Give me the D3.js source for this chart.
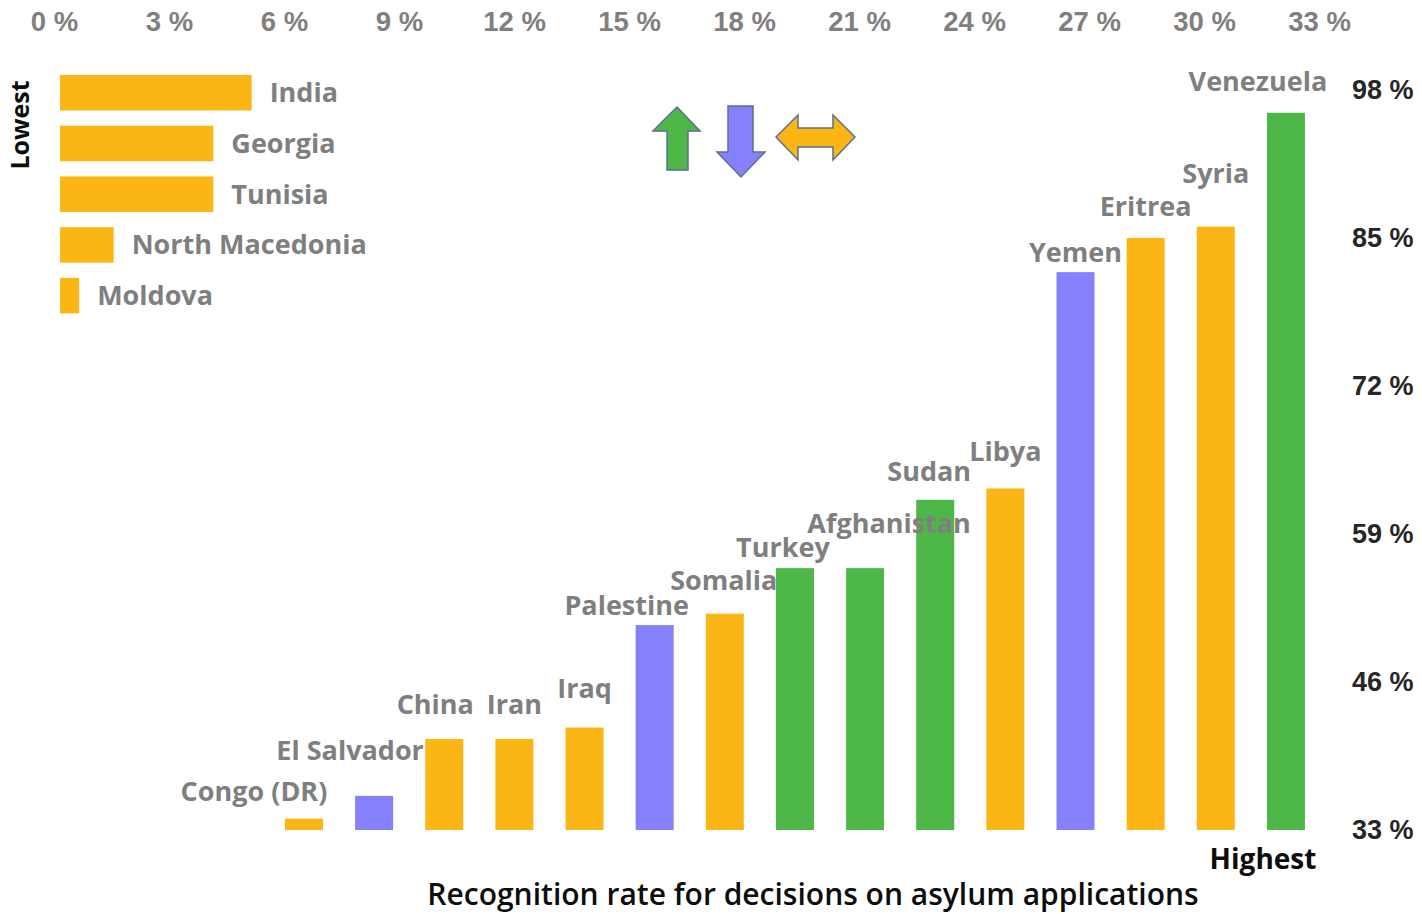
<!DOCTYPE html>
<meta charset="utf-8">
<style>
body { margin: 0; background: #fff; }
svg { font-family: "Open Sans", sans-serif; }
.country { fill: #7f7f7f; font-weight: 700; font-size: 27px; }
.top-axis text { fill: #7f7f7f; font-weight: 700; font-size: 27.5px; }
.right-axis text { fill: #262626; font-weight: 700; font-size: 27px; }
.domain, .tick line { display: none; }
.caption { fill: #0d0d0d; font-weight: 700; }
.arrow { stroke: #5b6f8c; stroke-width: 1.5; }
</style>
<svg width="1422" height="914"></svg>
<script src="https://d3js.org/d3.v7.min.js"></script>
<script>

// lowest recognition rates (%)
var lowNames = ["India", "Georgia", "Tunisia", "North Macedonia", "Moldova"];
var lowValues = [5.0, 4.0, 4.0, 1.4, 0.5];
var topTicks = [0, 3, 6, 9, 12, 15, 18, 21, 24, 27, 30, 33];

// highest recognition rates (%) and trend: up / down / same
var highNames = ["Congo (DR)", "El Salvador", "China", "Iran", "Iraq", "Palestine", "Somalia",
  "Turkey", "Afghanistan", "Sudan", "Libya", "Yemen", "Eritrea", "Syria", "Venezuela"];
var highValues = [34, 36, 41, 41, 42, 51, 52, 56, 56, 62, 63, 82, 85, 86, 96];
var highTrend = ["same", "down", "same", "same", "same", "down", "same",
  "up", "up", "up", "same", "down", "same", "same", "up"];
var rightTicks = [33, 46, 59, 72, 85, 98];

// hand placed label nudges [dx, dy] relative to bar centre / top
var labelNudge = [[-50, -27], [-24, -45], [-9, -34], [0, -34], [0, -39], [-28, -20], [-1, -33],
  [-12, -21], [24, -45], [-6, -28], [0, -37], [0, -20], [0, -31], [0, -53], [-28, -31]];

var color = d3.scaleOrdinal()
    .domain(["up", "down", "same"])
    .range(["#4db848", "#8780fd", "#fbb615"]);

var svg = d3.select("svg");

// ---- lowest: horizontal bars against the top axis
var x = d3.scaleLinear().domain([0, 33]).range([60, 1325]);
var yLow = d3.scaleBand().domain(lowNames).range([67.4, 321]).paddingInner(0.3).paddingOuter(0.15);

svg.append("g")
    .attr("class", "top-axis")
    .attr("transform", "translate(0,24)")
    .call(d3.axisTop(x).tickValues(topTicks).tickSize(0).tickFormat(function(d) { return d + " %"; }))
  .selectAll("text")
    .attr("dx", -6)
    .attr("dy", "0.35em");

svg.append("g").selectAll("rect")
  .data(lowValues)
  .enter().append("rect")
    .attr("x", x(0))
    .attr("y", function(d, i) { return yLow(lowNames[i]); })
    .attr("width", function(d) { return x(d) - x(0); })
    .attr("height", yLow.bandwidth())
    .attr("fill", color("same"));

svg.append("g").selectAll("text")
  .data(lowValues)
  .enter().append("text")
    .attr("class", "country")
    .attr("x", function(d) { return x(d) + 18; })
    .attr("y", function(d, i) { return yLow(lowNames[i]) + yLow.bandwidth() / 2; })
    .attr("dy", "0.35em")
    .text(function(d, i) { return lowNames[i]; });

svg.append("text")
    .attr("class", "caption")
    .attr("transform", "translate(20,125) rotate(-90)")
    .attr("text-anchor", "middle")
    .attr("dy", "0.35em")
    .style("font-size", "25px")
    .text("Lowest");

// ---- highest: vertical bars against the right axis
var xHigh = d3.scaleBand().domain(highNames).range([268.9, 1321]).paddingInner(0.458).paddingOuter(0.229);
var y = d3.scaleLinear().domain([33, 98]).range([830, 90]);

svg.append("g")
    .attr("class", "right-axis")
    .attr("transform", "translate(1352,0)")
    .call(d3.axisRight(y).tickValues(rightTicks).tickSize(0).tickPadding(0).tickFormat(function(d) { return d + " %"; }));

svg.append("g").selectAll("rect")
  .data(highValues)
  .enter().append("rect")
    .attr("x", function(d, i) { return xHigh(highNames[i]); })
    .attr("y", function(d) { return y(d); })
    .attr("width", xHigh.bandwidth())
    .attr("height", function(d) { return y(33) - y(d); })
    .attr("fill", function(d, i) { return color(highTrend[i]); });

svg.append("g").selectAll("text")
  .data(highValues)
  .enter().append("text")
    .attr("class", "country")
    .attr("text-anchor", "middle")
    .attr("x", function(d, i) { return xHigh(highNames[i]) + xHigh.bandwidth() / 2 + labelNudge[i][0]; })
    .attr("y", function(d, i) { return y(d) + labelNudge[i][1]; })
    .attr("dy", "0.35em")
    .text(function(d, i) { return highNames[i]; });

svg.append("text")
    .attr("class", "caption")
    .attr("x", 1263)
    .attr("y", 859)
    .attr("text-anchor", "middle")
    .attr("dy", "0.35em")
    .style("font-size", "28px")
    .text("Highest");

svg.append("text")
    .attr("class", "caption")
    .attr("x", 813)
    .attr("y", 905)
    .attr("text-anchor", "middle")
    .style("font-size", "30px")
    .style("font-weight", 600)
    .text("Recognition rate for decisions on asylum applications");

// ---- trend arrows
var arrows = svg.append("g").attr("class", "arrow");

arrows.append("path")
    .attr("fill", color("up"))
    .attr("d", "M677,107 L700,131 L688,131 L688,170 L667,170 L667,131 L653,131 Z");

arrows.append("path")
    .attr("fill", color("down"))
    .attr("d", "M728,106 L753,106 L753,152 L765,152 L741,177 L717,152 L728,152 Z");

arrows.append("path")
    .attr("fill", color("same"))
    .attr("d", "M776,137 L798,115 L798,128 L833,128 L833,115 L855,137 L833,160 L833,147 L798,147 L798,160 Z");

</script>
